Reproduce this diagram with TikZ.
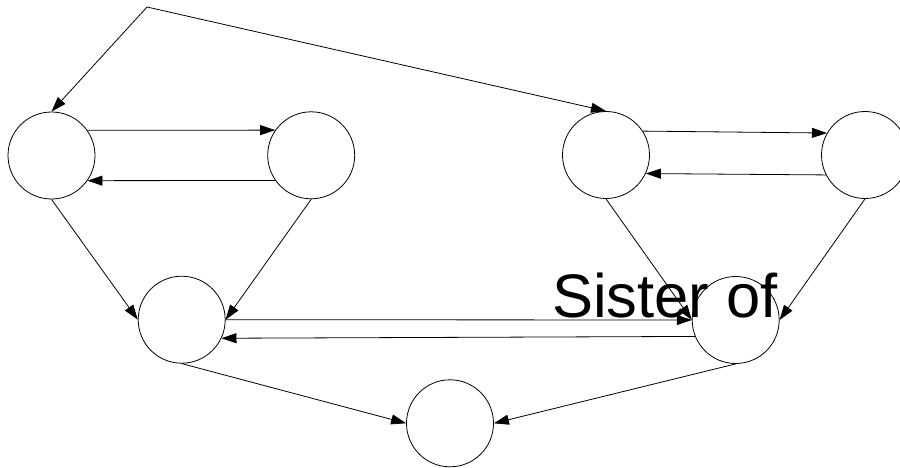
\documentclass[tikz,border=0pt]{standalone}
\usepackage{fontspec}
\setmainfont{Liberation Sans}
\usetikzlibrary{arrows.meta}
\begin{document}
\begin{tikzpicture}[x=1pt,y=-1pt,
  state/.style={draw, circle, minimum size=87pt, inner sep=0pt, line width=0.8pt},
  edge/.style={line width=0.8pt, -{Triangle[length=15pt,width=10pt]}},
  label/.style={anchor=base west, inner sep=0pt, font=\fontsize{61.5}{62}\selectfont}]
\useasboundingbox (0,0) rectangle (900,468);
\node[state] (A) at (51.5,155.5) {};
\node[state] (B) at (311.2,155.3) {};
\node[state] (C) at (606,155) {};
\node[state] (D) at (865,155) {};
\node[state] (E) at (181.7,319.7) {};
\node[state] (F) at (735.7,320) {};
\node[state] (G) at (450,423.3) {};
\coordinate (top) at (147,7);
\draw[edge] (top) -- (A.90);
\draw[edge] (top) -- (C.90);
\draw[edge] (A.35) -- (B.145);
\draw[edge] (B.215) -- (A.325);
\draw[edge] (C.33) -- (D.150);
\draw[edge] (D.207) -- (C.335);
\draw[edge] (A.270) -- (E.180);
\draw[edge] (B.270) -- (E.0);
\draw[edge] (C.270) -- (F.180);
\draw[edge] (D.270) -- (F.0);
\draw[edge] (E.0) -- (F.180);
\draw[edge] (F.202) -- (E.335);
\draw[edge] (E.270) -- (G.180);
\draw[edge] (F.270) -- (G.0);
\node[label] (sister) at (552,317.3) {Sister of};
\end{tikzpicture}
\end{document}
